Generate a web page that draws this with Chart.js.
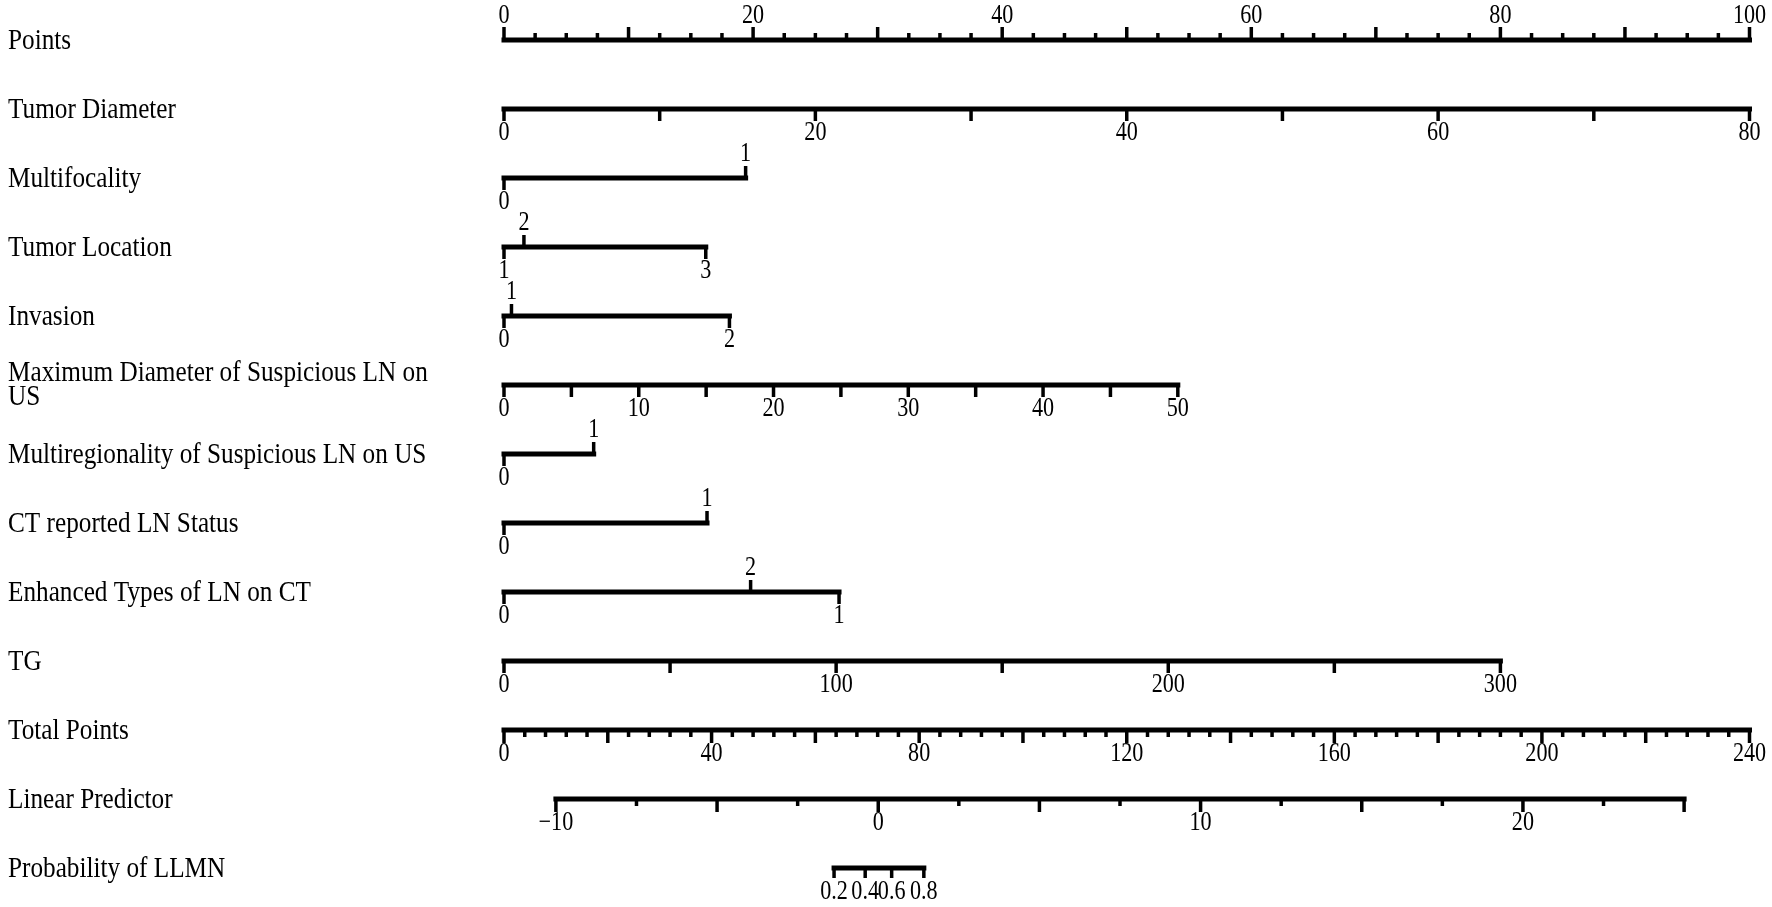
<!DOCTYPE html>
<html>
<head>
<meta charset="utf-8">
<title>Nomogram LLMN</title>
<script src="https://cdn.jsdelivr.net/npm/chart.js@4.4.1/dist/chart.umd.min.js"></script>
<style>
  html, body { margin: 0; padding: 0; background: #fff; }
  canvas { display: block; }
</style>
</head>
<body>
<canvas id="nomo" width="1772" height="907"></canvas>
<script>
const ink = '#000';

const row_labels = [
    'Points',
    'Tumor Diameter',
    'Multifocality',
    'Tumor Location',
    'Invasion',
    ['Maximum Diameter of Suspicious LN on', 'US'],
    'Multiregionality of Suspicious LN on US',
    'CT reported LN Status',
    'Enhanced Types of LN on CT',
    'TG',
    'Total Points',
    'Linear Predictor',
    'Probability of LLMN'
];

// continuous predictors: value range and the points they span
const diameter_range = [0, 80];
const diameter_points = [0, 100];
const ln_diameter_range = [0, 50];
const ln_diameter_points = [0, 54.1];
const tg_range = [0, 300];
const tg_points = [0, 80.0];

// categorical predictors: levels, points, label side
const multifocal_levels = ['0', '1'];
const multifocal_points = [0, 19.4];
const multifocal_side = [1, -1];

const location_levels = ['1', '2', '3'];
const location_points = [0, 1.6, 16.2];
const location_side = [1, -1, 1];

const invasion_levels = ['0', '1', '2'];
const invasion_points = [0, 0.6, 18.1];
const invasion_side = [1, -1, 1];

const multiregion_levels = ['0', '1'];
const multiregion_points = [0, 7.2];
const multiregion_side = [1, -1];

const ct_levels = ['0', '1'];
const ct_points = [0, 16.3];
const ct_side = [1, -1];

const enhanced_levels = ['0', '1', '2'];
const enhanced_points = [0, 26.9, 19.8];
const enhanced_side = [1, 1, -1];

// total points, linear predictor (in total points) and probability
const total_range = [0, 240];
const lp_range = [-10, 25];
const lp_total = [10.0, 227.4];
const prob_levels = ['0.2', '0.4', '0.6', '0.8'];
const prob_total = [63.6, 69.6, 74.7, 80.9];

const total_to_points = t => t * 100 / 240;

function fmt(v) {
    return v < 0 ? '\u2212' + Math.abs(v) : String(v);
}

function linear_ticks(range, pts, step, major, label_step, major_len, minor_len, dir) {
    const out = [];
    const n = Math.round((range[1] - range[0]) / step);
    for (let i = 0; i <= n; i++) {
        const v = range[0] + i * step;
        const p = pts[0] + (v - range[0]) / (range[1] - range[0]) * (pts[1] - pts[0]);
        const is_major = Math.abs(v / major - Math.round(v / major)) < 1e-6;
        const has_label = Math.abs(v / label_step - Math.round(v / label_step)) < 1e-6;
        out.push({ p: p, len: is_major ? major_len : minor_len, dir: dir, text: has_label ? fmt(v) : null });
    }
    return out;
}

function level_ticks(levels, pts, side) {
    return levels.map((l, i) => ({ p: pts[i], len: 12, dir: side[i], text: l }));
}

const rows = [
    linear_ticks([0, 100], [0, 100], 2.5, 10, 20, 13, 7, -1),
    linear_ticks(diameter_range, diameter_points, 10, 10, 20, 12, 12, 1),
    level_ticks(multifocal_levels, multifocal_points, multifocal_side),
    level_ticks(location_levels, location_points, location_side),
    level_ticks(invasion_levels, invasion_points, invasion_side),
    linear_ticks(ln_diameter_range, ln_diameter_points, 5, 5, 10, 12, 12, 1),
    level_ticks(multiregion_levels, multiregion_points, multiregion_side),
    level_ticks(ct_levels, ct_points, ct_side),
    level_ticks(enhanced_levels, enhanced_points, enhanced_side),
    linear_ticks(tg_range, tg_points, 50, 50, 100, 12, 12, 1),
    linear_ticks(total_range, [0, 100], 4, 20, 40, 13, 7, 1),
    linear_ticks(lp_range, lp_total.map(total_to_points), 2.5, 5, 10, 13, 7, 1),
    prob_levels.map((l, i) => ({ p: total_to_points(prob_total[i]), len: 10, dir: 1, text: l }))
];

// one line dataset per axis row
const datasets = rows.map((ticks, r) => {
    const ps = ticks.map(t => t.p);
    return {
        data: [{ x: Math.min(...ps), y: r }, { x: Math.max(...ps), y: r }],
        borderColor: ink,
        borderWidth: 5,
        borderCapStyle: 'square',
        pointRadius: 0,
        fill: false,
        clip: false
    };
});

function squeezed_text(ctx, text, x, y, align, font, sx) {
    ctx.save();
    ctx.font = font;
    ctx.textAlign = align;
    ctx.textBaseline = 'middle';
    ctx.translate(x, y);
    ctx.scale(sx, 1);
    ctx.fillText(text, 0, 0);
    ctx.restore();
}

const nomogram_ticks = {
    id: 'nomogram_ticks',
    afterDatasetsDraw(chart) {
        const ctx = chart.ctx;
        const xs = chart.scales.x, ys = chart.scales.y;
        ctx.save();
        ctx.strokeStyle = ink;
        ctx.fillStyle = ink;
        ctx.lineWidth = 3.5;
        rows.forEach((ticks, r) => {
            const y = ys.getPixelForValue(r);
            ticks.forEach(t => {
                const x = xs.getPixelForValue(t.p);
                ctx.beginPath();
                ctx.moveTo(x, y);
                ctx.lineTo(x, y + t.dir * t.len);
                ctx.stroke();
                if (t.text !== null) {
                    squeezed_text(ctx, t.text, x, y + t.dir * 24, 'center', '27px "Liberation Serif"', 0.82);
                }
            });
            const lab = row_labels[r];
            if (Array.isArray(lab)) {
                squeezed_text(ctx, lab[0], 8, y - 12, 'left', '29px "Liberation Serif"', 0.87);
                squeezed_text(ctx, lab[1], 8, y + 12, 'left', '29px "Liberation Serif"', 0.87);
            } else {
                squeezed_text(ctx, lab, 8, y + 1, 'left', '29px "Liberation Serif"', 0.87);
            }
        });
        ctx.restore();
    }
};

new Chart(document.getElementById('nomo').getContext('2d'), {
    type: 'line',
    data: { datasets: datasets },
    options: {
        responsive: false,
        animation: false,
        layout: { padding: { left: 504, right: 22.5, top: 40, bottom: 39 } },
        plugins: { legend: { display: false }, tooltip: { enabled: false } },
        scales: {
            x: { type: 'linear', min: 0, max: 100, display: false },
            y: { type: 'linear', min: 0, max: 12, reverse: true, display: false }
        }
    },
    plugins: [nomogram_ticks]
});
</script>
</body>
</html>
